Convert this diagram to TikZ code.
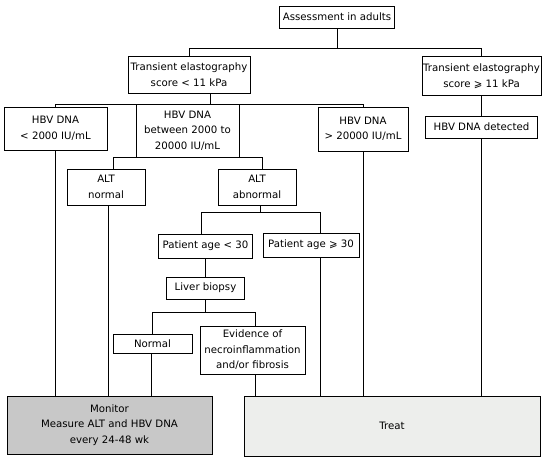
\documentclass[tikz,border=0pt]{standalone}
\usepackage{fontspec}
\setmainfont{DejaVu Sans}
\usetikzlibrary{calc}

\definecolor{monitorgray}{RGB}{200,200,200}
\definecolor{treatgray}{RGB}{237,238,236}

\begin{document}
\begin{tikzpicture}[x=1pt,y=-1pt,line width=0.9pt,
  box/.style={draw,align=center,inner sep=0pt,
    font=\fontsize{10.2}{15.5}\selectfont}]

  \useasboundingbox (0,0) rectangle (551,461);

  % boxes
  \node[box,minimum width=115,minimum height=22] (assess) at (337,17) {Assessment in adults};
  \node[box,minimum width=122,minimum height=37] (te1) at (189,74.5)
  {Transient elastography\\score < 11 kPa};
  \node[box,minimum width=119,minimum height=39] (te2) at (481.5,76)
  {Transient elastography\\score ⩾ 11 kPa};

  \node[box,minimum width=103,minimum height=43] (h1) at (55.5,128.5) {HBV DNA\\< 2000 IU/mL};
  \node[box,minimum width=103,minimum height=53] (h2) at (187.5,130.5)
  {HBV DNA\\between 2000 to\\20000 IU/mL};
  \node[box,minimum width=90,minimum height=44] (h3) at (363,129) {HBV DNA\\> 20000 IU/mL};
  \node[box,minimum width=112,minimum height=22] (hdet) at (481.5,127) {HBV DNA detected};

  \node[box,minimum width=78,minimum height=36] (altn) at (106,187) {ALT\\normal};
  \node[box,minimum width=78,minimum height=36] (alta) at (257,187) {ALT\\abnormal};

  \node[box,minimum width=94,minimum height=24] (young) at (205.5,246) {Patient age < 30};
  \node[box,minimum width=96,minimum height=24] (old) at (311,245) {Patient age ⩾ 30};
  \node[box,minimum width=78,minimum height=22] (biopsy) at (205.5,288) {Liver biopsy};

  \node[box,minimum width=79,minimum height=19] (normal) at (152.5,343.5) {Normal};
  \node[box,minimum width=105,minimum height=48] (necro) at (252.5,350)
  {Evidence of\\necroinflammation\\and/or fibrosis};

  \node[box,fill=monitorgray,minimum width=205,minimum height=58] (monitor) at (109.5,425)
  {Monitor\\Measure ALT and HBV DNA\\every 24-48 wk};
  \node[box,fill=treatgray,minimum width=296,minimum height=60] (treat) at (392,426) {Treat};

  % branching levels
  \coordinate (bus1) at (0,48);
  \coordinate (bus2) at (0,104);
  \coordinate (bus3) at (0,157.5);
  \coordinate (bus4) at (0,212.5);
  \coordinate (bus5) at (0,312);

  \coordinate (te1out) at (210,93);
  \coordinate (h2in) at (195,104);
  \coordinate (altnin) at (113.5,157.5);
  \coordinate (altnout) at (108,205);
  \coordinate (altain) at (262.5,157.5);
  \coordinate (altaout) at (260.5,205);
  \coordinate (youngin) at (201.5,212.5);
  \coordinate (oldin) at (320.5,212.5);
  \coordinate (oldout) at (320.5,257);
  \coordinate (normalout) at (151,353);
  \coordinate (necroin) at (255.5,312);

  % connectors
  \draw (assess) -- (assess |- bus1);
  \draw (te1) -- (te1 |- bus1) -- (te2 |- bus1) -- (te2);
  \draw (te2) -- (hdet);

  \draw (te1out) -- (te1out |- bus2);
  \draw (h1) -- (h1 |- bus2) -- (h3 |- bus2) -- (h3);
  \draw (h2in) -- (h2in |- h2.north);

  \draw (h2) -- (h2 |- bus3);
  \draw (altnin |- altn.north) -- (altnin) -- (altain) -- (altain |- alta.north);

  \draw (altaout) -- (altaout |- bus4);
  \draw (youngin |- young.north) -- (youngin) -- (oldin) -- (oldin |- old.north);

  \draw (young) -- (biopsy);
  \draw (biopsy) -- (biopsy |- bus5);
  \draw (normal) -- (normal |- bus5) -- (necroin) -- (necroin |- necro.north);

  % to monitor
  \draw (h1) -- (h1 |- monitor.north);
  \draw (altnout) -- (altnout |- monitor.north);
  \draw (normalout) -- (normalout |- monitor.north);

  % to treat
  \draw (necroin |- necro.south) -- (necroin |- treat.north);
  \draw (oldout) -- (oldout |- treat.north);
  \draw (h3) -- (h3 |- treat.north);
  \draw (hdet) -- (hdet |- treat.north);

\end{tikzpicture}
\end{document}
